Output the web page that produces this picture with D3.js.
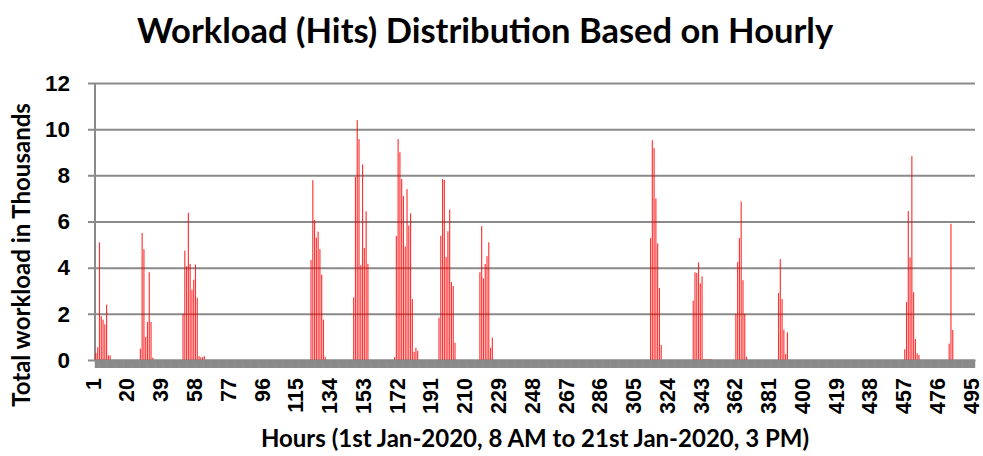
<!DOCTYPE html>
<html>
<head>
<meta charset="utf-8">
<script src="https://cdn.jsdelivr.net/npm/d3@7"></script>
<style>
  body { margin: 0; background: #fff; }
  svg { display: block; font-family: Lato, "Open Sans", sans-serif; }
</style>
</head>
<body>
<svg id="chart" width="983" height="456"></svg>
<script>
// hours 1..495
const hours = d3.range(1, 496);
const labelHours = hours.filter((d, i) => i % 19 === 0);
const yTicks = [0, 2, 4, 6, 8, 10, 12];

// bursts of activity: first hour of each burst and the values (thousands)
const burstStart = [1, 26, 50, 122, 146, 169, 194, 217, 313, 337, 361, 385, 456, 481];
const burstValues = [
    [0.3, 0.55, 5.1, 1.9, 1.75, 1.55, 2.4, 0.2, 0.2],
    [0.5, 5.5, 4.8, 1.0, 1.65, 3.8, 1.65, 0.1],
    [2.0, 4.74, 4.06, 6.38, 4.16, 3.04, 3.48, 4.14, 2.7, 0.17, 0.12, 0.12, 0.17],
    [4.33, 7.79, 6.06, 5.3, 5.56, 4.8, 3.7, 1.75, 0.14],
    [2.71, 7.94, 10.39, 9.57, 4.11, 8.47, 4.85, 6.44, 4.17],
    [0.12, 5.37, 9.57, 9.0, 7.84, 7.1, 4.92, 7.4, 5.83, 6.35, 2.64, 0.35, 0.53, 0.4],
    [1.83, 5.38, 7.84, 7.8, 4.46, 5.58, 6.52, 3.38, 3.2, 0.75],
    [3.8, 5.8, 3.54, 4.16, 4.5, 5.1, 0.53, 0.97],
    [5.28, 9.52, 9.18, 7.0, 5.05, 3.12, 0.65],
    [2.57, 3.8, 3.77, 4.23, 3.32, 3.62, 0.04, 0.04, 0.04, 0.04, 0.04],
    [2.0, 4.24, 5.28, 6.87, 3.46, 2.0, 0.14],
    [2.9, 4.37, 2.64, 1.31, 0.26, 1.2],
    [0.46, 2.51, 6.45, 4.44, 8.83, 2.94, 0.91, 0.29, 0.22],
    [0.71, 5.9, 1.3]
];

// every other hour is zero
const workload = hours.map(() => 0);
burstStart.forEach((s, b) => {
    burstValues[b].forEach((v, j) => { workload[s - 1 + j] = v; });
});
const data = hours.map((h, i) => ({ hour: h, value: workload[i] }));

const plotLeft = 95, plotRight = 975, plotTop = 83, plotBottom = 360;
const svg = d3.select('#chart');
const grey = '#8a8a8a';

const x = d3.scaleBand()
    .domain(hours)
    .range([plotLeft, plotRight])
    .paddingInner(0.35)
    .paddingOuter(0.2);

const y = d3.scaleLinear()
    .domain([0, 12])
    .range([plotBottom, plotTop]);

// gridlines + y labels
const yAxis = d3.axisLeft(y)
    .tickValues(yTicks)
    .tickSize(-(plotRight - plotLeft + 7))
    .tickPadding(18)
    .tickFormat(d3.format('d'));

const yG = svg.append('g')
    .attr('transform', `translate(${plotLeft - 7},0)`)
    .call(yAxis);
yG.select('.domain').remove();
yG.selectAll('line').attr('stroke', grey).attr('stroke-width', 2);
yG.selectAll('text')
    .attr('font-size', 22.5)
    .attr('font-weight', 'bold')
    .attr('fill', '#000');

svg.append('line')
    .attr('x1', plotLeft).attr('x2', plotLeft)
    .attr('y1', plotTop).attr('y2', plotBottom)
    .attr('stroke', grey).attr('stroke-width', 2);

// bars
svg.selectAll('rect.bar')
    .data(data)
    .enter()
    .append('rect')
    .attr('class', 'bar')
    .attr('x', d => x(d.hour))
    .attr('y', d => y(d.value))
    .attr('width', x.bandwidth())
    .attr('height', d => plotBottom - y(d.value))
    .attr('fill', '#ff0000')
    .attr('fill-opacity', 0.8);

// dense category ticks form the grey band under the bars
const xTickAxis = d3.axisBottom(x)
    .tickSize(8)
    .tickSizeOuter(0)
    .tickFormat('');

const xTickG = svg.append('g')
    .attr('transform', `translate(0,${plotBottom})`)
    .call(xTickAxis);
xTickG.select('.domain').attr('stroke', grey).attr('stroke-width', 2);
xTickG.selectAll('line').attr('stroke', grey).attr('stroke-width', 2.3);

// hour labels
const xLabelAxis = d3.axisBottom(x)
    .tickValues(labelHours)
    .tickSize(0);

const xLabelG = svg.append('g')
    .attr('transform', `translate(0,${plotBottom})`)
    .call(xLabelAxis);
xLabelG.select('.domain').remove();
xLabelG.selectAll('text')
    .attr('transform', 'rotate(-90)')
    .attr('text-anchor', 'end')
    .attr('x', -18)
    .attr('y', 0)
    .attr('dy', '0.22em')
    .attr('font-size', 21.5)
    .attr('font-weight', 'bold')
    .attr('fill', '#000');

// titles
svg.append('text')
    .attr('x', 485)
    .attr('y', 43)
    .attr('text-anchor', 'middle')
    .attr('font-size', 34.5)
    .attr('font-weight', 'bold')
    .text('Workload (Hits) Distribution Based on Hourly');

svg.append('text')
    .attr('x', 535)
    .attr('y', 447)
    .attr('text-anchor', 'middle')
    .attr('font-size', 24)
    .attr('font-weight', 'bold')
    .text('Hours (1st Jan-2020, 8 AM to 21st Jan-2020, 3 PM)');

svg.append('text')
    .attr('transform', 'translate(30,255) rotate(-90)')
    .attr('text-anchor', 'middle')
    .attr('font-size', 24)
    .attr('font-weight', 'bold')
    .text('Total workload in Thousands');
</script>
</body>
</html>
